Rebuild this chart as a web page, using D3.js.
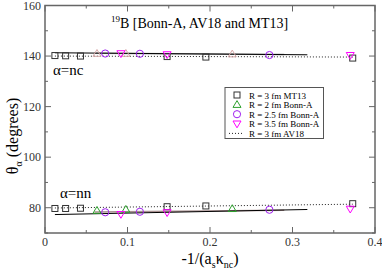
<!DOCTYPE html>
<html>
<head>
<meta charset="utf-8">
<script src="https://cdn.jsdelivr.net/npm/d3@7"></script>
<style>
  body { margin: 0; background: #fff; }
</style>
</head>
<body>
<div id="chart"></div>
<script>
const width = 382;
const height = 272;

// ---- data ----
const xTicks = [0, 0.1, 0.2, 0.3, 0.4];
const yTicks = [80, 100, 120, 140, 160];

// R = 3 fm MT13 (squares)
const mt13X = [0.012, 0.025, 0.043, 0.148, 0.195, 0.373];
const mt13Nc = [140.2, 140.1, 140.0, 139.8, 139.6, 139.2];
const mt13Nn = [79.7, 79.7, 79.8, 80.4, 80.7, 81.6];

// R = 2 fm Bonn-A (triangles)
const bonn2X = [0.063, 0.098, 0.227];
const bonn2Nc = [141.0, 141.0, 140.8];
const bonn2Nn = [78.9, 79.3, 79.6];

// R = 2.5 fm Bonn-A (circles)
const bonn25X = [0.073, 0.115, 0.272];
const bonn25Nc = [141.0, 140.9, 140.4];
const bonn25Nn = [78.2, 78.4, 79.2];

// R = 3.5 fm Bonn-A (down triangles)
const bonn35X = [0.092, 0.148, 0.370];
const bonn35Nc = [141.0, 140.6, 140.3];
const bonn35Nn = [77.4, 78.1, 79.5];

// R = 3 fm AV18 (dotted line)
const av18X = [0.012, 0.373];
const av18Nc = [140.0, 139.6];
const av18Nn = [79.9, 81.4];

// solid fit lines
const fitX = [0.012, 0.318];
const fitNc = [141.3, 140.5];
const fitNn = [77.3, 79.3];

// grey fit lines
const greyX = [0.06, 0.29];
const greyNc = [141.1, 140.6];
const greyNn = [78.3, 79.0];

const legendLabels = ["R = 3 fm MT13", "R  = 2 fm Bonn-A", "R = 2.5 fm Bonn-A", "R = 3.5 fm Bonn-A", "R = 3 fm AV18"];

// ---- layout ----
const svg = d3.select("#chart").append("svg")
  .attr("width", width)
  .attr("height", height)
  .attr("font-family", "'Liberation Serif', 'Times New Roman', 'DejaVu Serif', serif");

const x = d3.scaleLinear().domain([0, 0.4]).range([45, 375]);
const y = d3.scaleLinear().domain([70, 160]).range([233, 5.5]);

const axisColor = "#666";

// frame
svg.append("rect")
  .attr("x", x(0)).attr("y", y(160))
  .attr("width", x(0.4) - x(0)).attr("height", y(70) - y(160))
  .attr("fill", "none").attr("stroke", axisColor).attr("stroke-width", 1.5);

// ticks
const xMinor = d3.range(0.05, 0.4, 0.1);
const yMinor = d3.range(70, 160, 20);
const tickG = svg.append("g").attr("stroke", axisColor).attr("stroke-width", 1);
xTicks.forEach(t => {
  tickG.append("line").attr("x1", x(t)).attr("x2", x(t)).attr("y1", y(70)).attr("y2", y(70) - 6);
  tickG.append("line").attr("x1", x(t)).attr("x2", x(t)).attr("y1", y(160)).attr("y2", y(160) + 6);
});
xMinor.forEach(t => {
  tickG.append("line").attr("x1", x(t)).attr("x2", x(t)).attr("y1", y(70)).attr("y2", y(70) - 3);
  tickG.append("line").attr("x1", x(t)).attr("x2", x(t)).attr("y1", y(160)).attr("y2", y(160) + 3);
});
yTicks.forEach(t => {
  tickG.append("line").attr("x1", x(0)).attr("x2", x(0) + 6).attr("y1", y(t)).attr("y2", y(t));
  tickG.append("line").attr("x1", x(0.4)).attr("x2", x(0.4) - 6).attr("y1", y(t)).attr("y2", y(t));
});
yMinor.forEach(t => {
  tickG.append("line").attr("x1", x(0)).attr("x2", x(0) + 3).attr("y1", y(t)).attr("y2", y(t));
  tickG.append("line").attr("x1", x(0.4)).attr("x2", x(0.4) - 3).attr("y1", y(t)).attr("y2", y(t));
});

// tick labels
svg.selectAll(".xl").data(xTicks).join("text")
  .attr("x", d => x(d)).attr("y", y(70) + 13)
  .attr("text-anchor", "middle").attr("font-size", 12).attr("fill", "#333")
  .text(d => d === 0 ? "0" : d3.format(".1f")(d));
svg.selectAll(".yl").data(yTicks).join("text")
  .attr("x", x(0) - 4).attr("y", d => y(d) + 4)
  .attr("text-anchor", "end").attr("font-size", 12).attr("fill", "#333")
  .text(d => d);

// axis titles
const xt = svg.append("text").attr("x", 210).attr("y", 264)
  .attr("text-anchor", "middle").attr("font-size", 16);
xt.append("tspan").text("-1/(a");
xt.append("tspan").attr("font-size", 10).attr("dy", 4).text("s");
xt.append("tspan").attr("dy", -4).text("κ");
xt.append("tspan").attr("font-size", 10).attr("dy", 4).text("nc");
xt.append("tspan").attr("dy", -4).text(")");

const yt = svg.append("text")
  .attr("transform", `translate(18,136) rotate(-90)`)
  .attr("text-anchor", "middle").attr("font-size", 16);
yt.append("tspan").text("θ");
yt.append("tspan").attr("font-size", 10).attr("dy", 4).text("α");
yt.append("tspan").attr("dy", -4).text(" (degrees)");

// title
const tt = svg.append("text").attr("x", 111).attr("y", 28).attr("font-size", 14);
tt.append("tspan").attr("font-size", 9).attr("dy", -6).text("19");
tt.append("tspan").attr("dy", 6).text("B  [Bonn-A, AV18 and MT13]");

// annotations
svg.append("text").attr("x", 53).attr("y", 75).attr("font-size", 15).text("α=nc");
svg.append("text").attr("x", 60).attr("y", 198).attr("font-size", 15).text("α=nn");

// ---- lines ----
const line = d3.line().x(d => x(d[0])).y(d => y(d[1]));
const zip = (a, b) => a.map((v, i) => [v, b[i]]);

[greyNc, greyNn].forEach((ys, i) => {
  svg.append("path").attr("d", line(zip(greyX, ys)))
    .attr("fill", "none").attr("stroke", i === 0 ? "#999" : "#a89090").attr("stroke-width", 1.5);
});
[fitNc, fitNn].forEach(ys => {
  svg.append("path").attr("d", line(zip(fitX, ys)))
    .attr("fill", "none").attr("stroke", "#000").attr("stroke-width", 1);
});
[av18Nc, av18Nn].forEach(ys => {
  svg.append("path").attr("d", line(zip(av18X, ys)))
    .attr("fill", "none").attr("stroke", "#222").attr("stroke-width", 1)
    .attr("stroke-dasharray", "1,2");
});

// ---- symbols ----
function drawSym(g, type, cx, cy, color) {
  if (type === "square") {
    g.append("rect").attr("x", cx - 3).attr("y", cy - 3).attr("width", 6).attr("height", 6)
      .attr("fill", "none").attr("stroke", color).attr("stroke-width", 1);
  } else if (type === "circle") {
    g.append("circle").attr("cx", cx).attr("cy", cy).attr("r", 3.6)
      .attr("fill", "none").attr("stroke", color).attr("stroke-width", 1);
  } else if (type === "up") {
    g.append("path").attr("d", `M${cx},${cy - 4}L${cx + 4},${cy + 2.8}L${cx - 4},${cy + 2.8}Z`)
      .attr("fill", "none").attr("stroke", color).attr("stroke-width", 1);
  } else if (type === "down") {
    g.append("path").attr("d", `M${cx},${cy + 4}L${cx + 4},${cy - 2.8}L${cx - 4},${cy - 2.8}Z`)
      .attr("fill", "none").attr("stroke", color).attr("stroke-width", 1);
  }
}

const symG = svg.append("g");
const series = [
  { xs: mt13X, ys: mt13Nc, type: "square", color: "#333" },
  { xs: mt13X, ys: mt13Nn, type: "square", color: "#333" },
  { xs: bonn2X, ys: bonn2Nc, type: "up", color: "#d6a8a8" },
  { xs: bonn2X, ys: bonn2Nn, type: "up", color: "#2ca02c" },
  { xs: bonn25X, ys: bonn25Nc, type: "circle", color: "#a020f0" },
  { xs: bonn25X, ys: bonn25Nn, type: "circle", color: "#a020f0" },
  { xs: bonn35X, ys: bonn35Nc, type: "down", color: "#ff00ff" },
  { xs: bonn35X, ys: bonn35Nn, type: "down", color: "#ff00ff" }
];
series.forEach(s => {
  s.xs.forEach((xv, i) => drawSym(symG, s.type, x(xv), y(s.ys[i]), s.color));
});

// ---- legend ----
const lg = svg.append("g");
lg.append("rect").attr("x", 225).attr("y", 87.5).attr("width", 98.5).attr("height", 51)
  .attr("fill", "#fff").attr("stroke", "#555").attr("stroke-width", 1);
const legSyms = [
  { type: "square", color: "#333" },
  { type: "up", color: "#2ca02c" },
  { type: "circle", color: "#a020f0" },
  { type: "down", color: "#ff00ff" },
  { type: "dot", color: "#222" }
];
legendLabels.forEach((lab, i) => {
  const ly = 95 + i * 9.6;
  const s = legSyms[i];
  if (s.type === "dot") {
    lg.append("line").attr("x1", 229).attr("x2", 244).attr("y1", ly).attr("y2", ly)
      .attr("stroke", s.color).attr("stroke-dasharray", "1,2");
  } else {
    drawSym(lg, s.type, 237, ly, s.color);
  }
  lg.append("text").attr("x", 249).attr("y", ly + 3.5).attr("font-size", 9).text(lab);
});
</script>
</body>
</html>
